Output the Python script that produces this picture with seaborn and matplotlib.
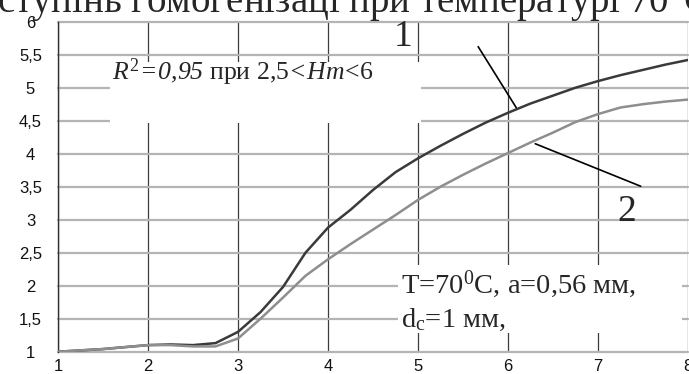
import matplotlib
matplotlib.use("Agg")
import matplotlib.pyplot as plt
import seaborn as sns
import pandas as pd
from matplotlib.patches import Rectangle

# ---- data ----
x_vals = [1.0, 1.25, 1.5, 1.75, 2.0, 2.25, 2.5, 2.75, 3.0, 3.25, 3.5, 3.75, 4.0,
          4.25, 4.5, 4.75, 5.0, 5.25, 5.5, 5.75, 6.0, 6.25, 6.5, 6.75, 7.0,
          7.25, 7.5, 7.75, 8.0]
curve1 = [1.00, 1.02, 1.04, 1.07, 1.10, 1.11, 1.10, 1.13, 1.30, 1.60, 1.98, 2.50, 2.88,
          3.15, 3.45, 3.72, 3.93, 4.12, 4.30, 4.47, 4.62, 4.76, 4.88, 5.00, 5.10,
          5.19, 5.27, 5.35, 5.42]
curve2 = [1.00, 1.02, 1.04, 1.07, 1.10, 1.10, 1.08, 1.08, 1.20, 1.50, 1.82, 2.15, 2.40,
          2.63, 2.85, 3.07, 3.30, 3.50, 3.68, 3.85, 4.01, 4.17, 4.32, 4.48, 4.60,
          4.70, 4.75, 4.79, 4.82]
series_names = ["1", "2"]
x_ticks = [1, 2, 3, 4, 5, 6, 7, 8]
x_tick_labels = ["1", "2", "3", "4", "5", "6", "7", "8"]
y_ticks = [1, 1.5, 2, 2.5, 3, 3.5, 4, 4.5, 5, 5.5, 6]
y_tick_labels = ["1", "1,5", "2", "2,5", "3", "3,5", "4", "4,5", "5", "5,5", "6"]
title_text = "ступінь гомогенізаці при температурі 70$^0$С"
r2_text = r"$\mathit{R}^{2}\mathsf{\!=\!0{,}95}$ при 2,5$\mathsf{\!<\!}\mathit{Hm}\!<\!$6"
cond_line1 = "T=70$^0$C, a=0,56 мм,"
cond_line2 = "d$_\\mathrm{c}$=1 мм,"

df = pd.DataFrame({
    "x": x_vals * 2,
    "y": curve1 + curve2,
    "curve": [series_names[0]] * len(x_vals) + [series_names[1]] * len(x_vals),
})

sns.set_style("white")
plt.rcParams["font.family"] = ["Liberation Sans", "DejaVu Sans"]
plt.rcParams["mathtext.fontset"] = "custom"
plt.rcParams["mathtext.rm"] = "Liberation Serif"
plt.rcParams["mathtext.it"] = "Liberation Serif:italic"
plt.rcParams["mathtext.sf"] = "Liberation Serif:italic"
plt.rcParams["mathtext.bf"] = "Liberation Serif:bold"

fig = plt.figure(figsize=(6.89, 3.74), dpi=100)
ax = fig.add_axes([58 / 689, (374 - 351.7) / 374, 630 / 689, 330 / 374])

sns.lineplot(data=df, x="x", y="y", hue="curve",
             palette={"1": "#3a3a3a", "2": "#8e8e8e"},
             linewidth=1.8, legend=False, ax=ax, zorder=3)

ax.set_xlim(1, 8)
ax.set_ylim(1, 6)
ax.set_xticks(x_ticks)
ax.set_xticklabels(x_tick_labels)
ax.set_yticks(y_ticks)
ax.set_yticklabels(y_tick_labels)
ax.set_xlabel("")
ax.set_ylabel("")

for s in ["top", "right", "bottom"]:
    ax.spines[s].set_visible(False)
ax.spines["left"].set_color("#303030")
ax.spines["left"].set_linewidth(1.0)

ax.yaxis.grid(True, color="#b4b4b4", linewidth=1.6)
ax.xaxis.grid(True, color="#3c3c3c", linewidth=0.9)
for gl in ax.yaxis.get_gridlines():
    gl.set_clip_on(False)
ax.tick_params(axis="y", length=4.3, width=1.6, color="#b4b4b4", pad=15.5,
               labelsize=12, labelcolor="#111111")
ax.tick_params(axis="x", length=4.3, width=0.9, color="#3c3c3c", pad=1.0,
               labelsize=12, labelcolor="#111111")
for lab in ax.get_yticklabels():
    lab.set_horizontalalignment("center")

serif = ["Liberation Serif", "DejaVu Serif"]

# white label boxes occluding grid
ax.add_patch(Rectangle((0.083, 0.693), 0.493, 0.185, transform=ax.transAxes,
                       facecolor="white", edgecolor="none", zorder=2.5))
ax.add_patch(Rectangle((0.5397, 0.0566), 0.450, 0.206, transform=ax.transAxes,
                       facecolor="white", edgecolor="none", zorder=2.5))

ax.text(0.0857, 0.8233, r2_text, transform=ax.transAxes, fontsize=18.5,
        family=serif, ha="left", va="baseline", zorder=4)
ax.text(0.544, 0.178, cond_line1, transform=ax.transAxes, fontsize=20.5,
        family=serif, ha="left", va="baseline", zorder=4)
ax.text(0.544, 0.075, cond_line2, transform=ax.transAxes, fontsize=20.5,
        family=serif, ha="left", va="baseline", zorder=4)

ax.text(0.5476, 0.9536, "1", transform=ax.transAxes, fontsize=27,
        family=serif, ha="center", va="center", zorder=4)
ax.text(0.903, 0.425, "2", transform=ax.transAxes, fontsize=27,
        family=serif, ha="center", va="center", zorder=4)

ax.annotate("", xy=(0.7297, 0.7324), xytext=(0.6646, 0.9315),
            xycoords="axes fraction", textcoords="axes fraction",
            arrowprops=dict(arrowstyle="-", color="black", lw=1.2), zorder=4)
ax.annotate("", xy=(0.7535, 0.6333), xytext=(0.929, 0.4982),
            xycoords="axes fraction", textcoords="axes fraction",
            arrowprops=dict(arrowstyle="-", color="black", lw=1.2), zorder=4)

fig.text(-0.004, 1 - 13.5 / 374, title_text, fontsize=28, family=serif,
         ha="left", va="baseline")

fig.savefig("out.png", dpi=100)
